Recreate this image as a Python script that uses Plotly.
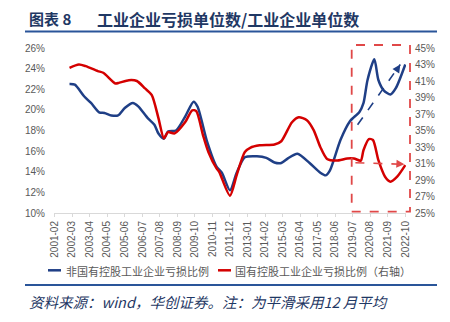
import plotly.graph_objects as go

# ---------------- data ----------------
tick_labels = ["2001-02", "2002-03", "2003-04", "2004-05", "2005-06", "2006-07", "2007-08",
               "2008-09", "2009-10", "2010-11", "2011-12", "2013-01", "2014-02", "2015-03",
               "2016-04", "2017-05", "2018-06", "2019-07", "2020-08", "2021-09", "2022-10"]

non_soe_dates = ["2002-01", "2002-05", "2002-12", "2003-05", "2003-11", "2004-03", "2004-08",
                 "2005-01", "2005-06", "2005-12", "2006-04", "2006-11", "2007-04", "2007-07",
                 "2007-11", "2008-02", "2008-08", "2009-03", "2009-09", "2009-12", "2010-07",
                 "2011-02", "2011-06", "2011-12", "2012-05", "2012-11", "2013-08", "2014-03",
                 "2014-09", "2015-02", "2015-07", "2016-02", "2016-11", "2017-07", "2017-11",
                 "2018-02", "2018-10", "2019-05", "2019-12", "2020-03", "2020-06", "2020-11",
                 "2021-02", "2021-06", "2021-11", "2022-03", "2022-10"]
non_soe_vals = [22.5, 22.44, 21.3, 20.67, 19.76, 19.7, 19.46,
                19.46, 20.18, 20.67, 20.34, 19.2, 18.56, 17.7,
                17.2, 17.9, 18.0, 19.4, 20.8, 20.3, 16.95,
                14.5, 13.9, 12.2, 13.9, 15.4, 15.5, 15.35,
                14.9, 14.85, 15.3, 15.75, 14.85, 13.9, 13.65,
                14.1, 17.1, 18.9, 19.8, 20.65, 22.9, 24.9,
                22.9, 21.9, 21.5, 22.1, 24.4]

soe_dates = ["2002-01", "2002-08", "2003-01", "2003-10", "2004-02", "2004-11", "2005-02",
             "2005-09", "2006-03", "2006-09", "2007-02", "2007-07", "2007-11", "2008-02",
             "2008-07", "2009-03", "2009-08", "2009-11", "2010-04", "2010-08", "2011-02",
             "2011-04", "2011-12", "2012-05", "2012-11", "2013-03", "2013-10", "2014-09",
             "2015-02", "2015-10", "2016-03", "2016-09", "2017-02", "2017-07", "2017-12",
             "2018-07", "2019-03", "2019-08", "2020-01", "2020-03", "2020-07", "2020-10",
             "2021-02", "2021-07", "2021-11", "2022-04", "2022-10"]
soe_vals = [42.6, 43.0, 42.8, 42.2, 42.0, 40.7, 40.8,
            41.1, 41.0, 40.1, 39.3, 36.5, 34.05, 34.8,
            34.65, 36.05, 37.45, 37.35, 34.45, 32.4, 30.4,
            30.0, 27.1, 29.6, 32.4, 32.9, 33.2, 33.3,
            33.7, 36.0, 36.6, 36.25, 35.05, 33.0, 31.55,
            31.35, 31.6, 31.6, 31.35, 32.6, 33.95, 33.85,
            31.4, 29.4, 28.8, 29.4, 30.8]

left_ticks = [10, 12, 14, 16, 18, 20, 22, 24, 26]
right_ticks = [25, 27, 29, 31, 33, 35, 37, 39, 41, 43, 45]

# ---------------- layout geometry ----------------
W, H = 450, 322
L, R, T, B = 54, 44, 48, 109
PW, PH = W - L - R, H - T - B


def px2x(px):
    return (px - L) / PW


def py2y(py):
    return (H - B - py) / PH


BLUE = "#1F3F86"
RED = "#D40000"
GRAY = "#595959"
NAVY = "#1F3864"
RULE = "#2A5599"
TICKFONT = dict(family="Liberation Sans, Arial, sans-serif", size=10, color=GRAY)
CJK = "Noto Sans CJK SC"

fig = go.Figure()
fig.add_trace(go.Scatter(x=non_soe_dates, y=non_soe_vals, mode="lines",
                         name="非国有控股工业企业亏损比例",
                         line=dict(color=BLUE, width=2.5, shape="spline", smoothing=0.7),
                         yaxis="y"))
fig.add_trace(go.Scatter(x=soe_dates, y=soe_vals, mode="lines",
                         name="国有控股工业企业亏损比例（右轴）",
                         line=dict(color=RED, width=2.5, shape="spline", smoothing=0.7),
                         yaxis="y2"))

shapes = []
annotations = []

# dashed highlight box
shapes.append(dict(type="rect", xref="paper", yref="paper",
                   x0=px2x(351.7), x1=px2x(410), y0=py2y(211.7), y1=py2y(45),
                   line=dict(color="#E04848", width=1.8, dash="dash")))

# dashed trend arrows
shapes.append(dict(type="line", xref="x", yref="y", x0="2019-10-20", y0=18.55,
                   x1="2022-06-10", y1=24.4, line=dict(color=BLUE, width=1.6, dash="dash")))
annotations.append(dict(xref="x", yref="y", x="2022-06-10", y=24.4, text="", showarrow=True,
                        arrowhead=2, arrowsize=1, arrowwidth=1.6, arrowcolor=BLUE,
                        ax=-5, ay=7.5))
shapes.append(dict(type="line", xref="x", yref="y2", x0="2019-09-01", y0=31.1,
                   x1="2022-09-10", y1=30.9, line=dict(color="#E04848", width=1.6, dash="dash")))
annotations.append(dict(xref="x", yref="y2", x="2022-09-10", y=30.9, text="", showarrow=True,
                        arrowhead=2, arrowsize=1, arrowwidth=1.6, arrowcolor="#E04848",
                        ax=-8, ay=-0.5))

# title
annotations.append(dict(xref="paper", yref="paper", x=px2x(27), y=py2y(19), xanchor="left",
                        yanchor="middle", text="<b>图表 8</b>", showarrow=False,
                        font=dict(family=CJK, size=15, color=NAVY)))
annotations.append(dict(xref="paper", yref="paper", x=px2x(95), y=py2y(19), xanchor="left",
                        yanchor="middle", text="<b>工业企业亏损单位数/工业企业单位数</b>",
                        showarrow=False, font=dict(family=CJK, size=16, color=NAVY)))
shapes.append(dict(type="line", xref="paper", yref="paper", x0=px2x(25), x1=px2x(437),
                   y0=py2y(31.5), y1=py2y(31.5), line=dict(color=RULE, width=2)))

# legend (manual)
shapes.append(dict(type="line", xref="paper", yref="paper", x0=px2x(48), x1=px2x(61),
                   y0=py2y(270.3), y1=py2y(270.3), line=dict(color=BLUE, width=2.5)))
annotations.append(dict(xref="paper", yref="paper", x=px2x(64), y=py2y(270.5), xanchor="left",
                        yanchor="middle", text="非国有控股工业企业亏损比例", showarrow=False,
                        font=dict(family=CJK, size=11, color=GRAY)))
shapes.append(dict(type="line", xref="paper", yref="paper", x0=px2x(218), x1=px2x(231),
                   y0=py2y(270.3), y1=py2y(270.3), line=dict(color=RED, width=2.5)))
annotations.append(dict(xref="paper", yref="paper", x=px2x(233), y=py2y(270.5), xanchor="left",
                        yanchor="middle", text="国有控股工业企业亏损比例（右轴）", showarrow=False,
                        font=dict(family=CJK, size=11, color=GRAY)))

# bottom rule and source
shapes.append(dict(type="line", xref="paper", yref="paper", x0=px2x(25), x1=px2x(437),
                   y0=py2y(285), y1=py2y(285), line=dict(color=RULE, width=2)))
annotations.append(dict(xref="paper", yref="paper", x=px2x(27), y=py2y(301), xanchor="left",
                        yanchor="middle", text="<i>资料来源：wind，华创证券。注：为平滑采用12 月平均</i>",
                        showarrow=False, font=dict(family=CJK, size=14.5, color=NAVY)))

fig.update_layout(
    width=W, height=H,
    margin=dict(l=L, r=R, t=T, b=B, pad=0),
    paper_bgcolor="white", plot_bgcolor="white",
    showlegend=False,
    shapes=shapes, annotations=annotations,
    xaxis=dict(type="date", range=["2001-01-16", "2022-10-17"],
               tickmode="array", tickvals=tick_labels, ticktext=tick_labels,
               tickangle=-90, tickfont=TICKFONT, showgrid=False, zeroline=False,
               showline=True, linecolor="#D9D9D9", linewidth=1,
               ticks="outside", ticklen=3, tickcolor="#D9D9D9"),
    yaxis=dict(range=[10, 26], tickmode="array", tickvals=left_ticks,
               ticktext=[f"{v}%" for v in left_ticks], tickfont=TICKFONT,
               showgrid=False, zeroline=False, showline=False, ticklabelstandoff=8),
    yaxis2=dict(range=[25, 45], tickmode="array", tickvals=right_ticks,
                ticktext=[f"{v}%" for v in right_ticks], tickfont=TICKFONT,
                overlaying="y", side="right", showgrid=False, zeroline=False,
                showline=False, ticklabelstandoff=8),
)

fig.write_html("out.html")
